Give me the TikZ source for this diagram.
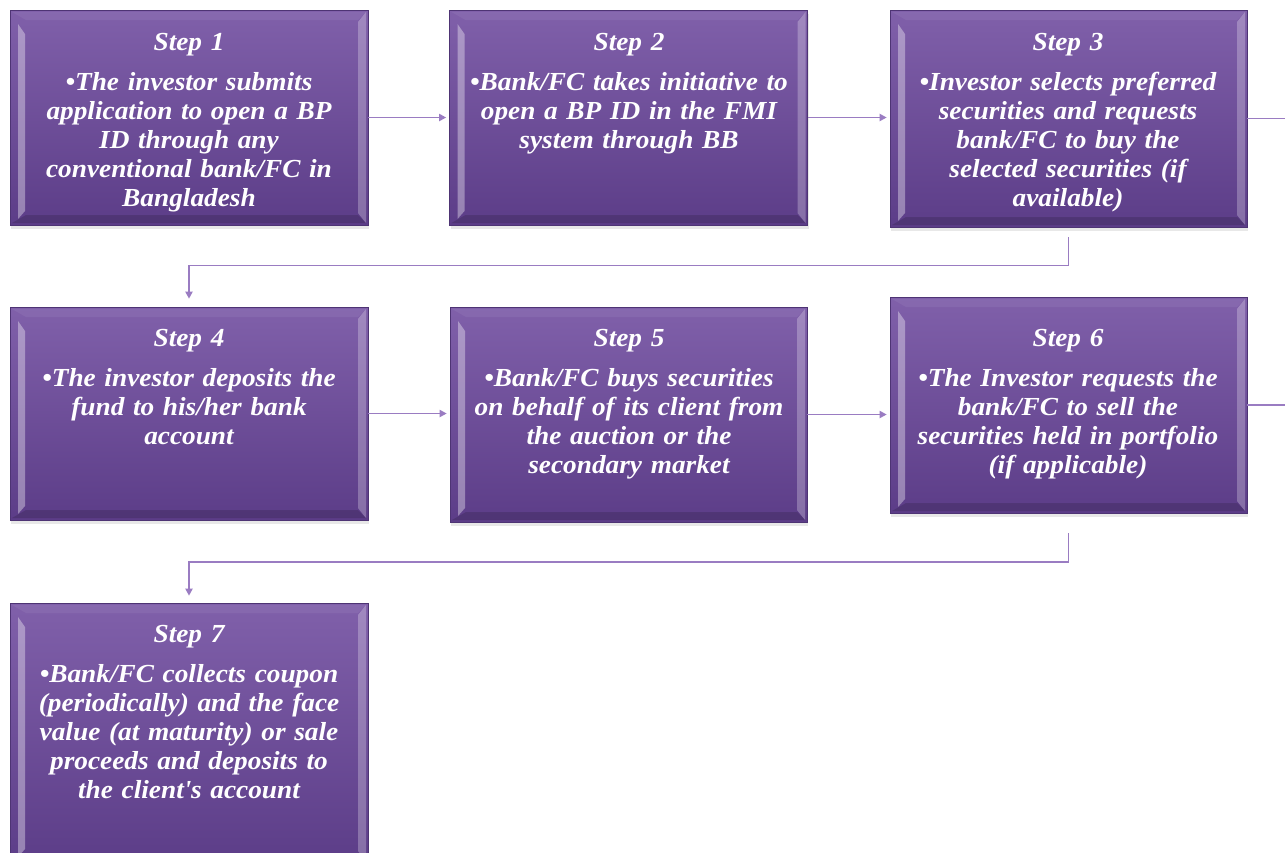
\documentclass[tikz,border=0pt]{standalone}
\usepackage{fontspec}
\setmainfont{Liberation Serif}
\newfontfamily\stepfont[FakeStretch=1.05]{Liberation Serif}
\usetikzlibrary{arrows.meta,calc,shadows}
\definecolor{boxtop}{HTML}{8060AA}
\definecolor{boxbot}{HTML}{5C3D88}
\definecolor{connc}{HTML}{9A7CC2}
\tikzset{
  stepbox/.style={rectangle, inner sep=0pt, top color=boxtop, bottom color=boxbot,
    draw=boxbot!85!black, line width=0.6pt, minimum width=358pt, minimum height=215pt,
    drop shadow={shadow xshift=1pt, shadow yshift=-4pt, opacity=0.18, fill=black!50},
    path picture={
      \coordinate (pnw) at (path picture bounding box.north west);
      \coordinate (pse) at (path picture bounding box.south east);
      % left bevel
      \fill[white, opacity=0.36] ($(pnw)+(8,14)$) -- ($(pnw)+(15,24)$) -- ($(pnw|-pse)+(15,-14)$) -- ($(pnw|-pse)+(8,-6)$) -- cycle;
      % right bevel
      \fill[white, opacity=0.26] ($(pse|-pnw)+(-2,2)$) -- ($(pse|-pnw)+(-10,12)$) -- ($(pse)+(-10,-12)$) -- ($(pse)+(-2,-2)$) -- cycle;
      % top bevel
      \fill[white, opacity=0.06] ($(pnw)+(2,2)$) -- ($(pse|-pnw)+(-2,2)$) -- ($(pse|-pnw)+(-10,10)$) -- ($(pnw)+(16,10)$) -- cycle;
      % bottom bevel
      \fill[black, opacity=0.14] ($(pnw|-pse)+(2,-2)$) -- ($(pse)+(-2,-2)$) -- ($(pse)+(-10,-10)$) -- ($(pnw|-pse)+(16,-10)$) -- cycle;
    }},
  steptext/.style={text=white, font=\stepfont\fontsize{26}{28.8}\selectfont\bfseries\itshape,
    align=center, text width=356pt, inner sep=0pt, anchor=base},
  conn/.style={draw=connc, line width=1.8pt, -{Triangle[length=7pt,width=7pt]}},
  connline/.style={draw=connc, line width=1.8pt}
}
\begin{document}
\begin{tikzpicture}[x=1pt, y=-1pt]
\useasboundingbox (0,0) rectangle (1285,852);
\clip (0,0) rectangle (1285,852);
\fill[white] (0,0) rectangle (1285,852);

% boxes
\node[stepbox] (b1) at (189,117.5) {};
\node[stepbox] (b2) at (628.5,117.5) {};
\node[stepbox, minimum width=357pt, minimum height=217pt] (b3) at (1068.5,118.5) {};
\node[stepbox, minimum height=213pt] (b4) at (189,413.5) {};
\node[stepbox, minimum width=357pt] (b5) at (628.5,414.5) {};
\node[stepbox, minimum width=357pt, minimum height=216pt] (b6) at (1068.5,405) {};
\node[stepbox, minimum height=260pt] (b7) at (189,733) {};

% texts
\node[steptext] (t1) at (189,50) {Step 1\\[12pt]\textbullet The investor submits\\application to open a BP\\ID through any\\conventional bank/FC in\\Bangladesh};
\node[steptext] (t2) at (629,50) {Step 2\\[12pt]\textbullet Bank/FC takes initiative to\\open a BP ID in the FMI\\system through BB};
\node[steptext] (t3) at (1068,50) {Step 3\\[12pt]\textbullet Investor selects preferred\\securities and requests\\bank/FC to buy the\\selected securities (if\\available)};
\node[steptext] (t4) at (189,346) {Step 4\\[12pt]\textbullet The investor deposits the\\fund to his/her bank\\account};
\node[steptext] (t5) at (629,346) {Step 5\\[12pt]\textbullet Bank/FC buys securities\\on behalf of its client from\\the auction or the\\secondary market};
\node[steptext] (t6) at (1068,346) {Step 6\\[12pt]\textbullet The Investor requests the\\bank/FC to sell the\\securities held in portfolio\\(if applicable)};
\node[steptext] (t7) at (189,642) {Step 7\\[12pt]\textbullet Bank/FC collects coupon\\(periodically) and the face\\value (at maturity) or sale\\proceeds and deposits to\\the client\textquotesingle s account};

% connectors
\coordinate (e3) at (1285,118.5);
\coordinate (d3) at (1068.5,237);
\coordinate (m3) at (1068.5,265.5);
\coordinate (e6) at (1285,405);
\coordinate (d6) at (1068.5,533);
\coordinate (m6) at (1068.5,562);

\draw[conn, shorten >=3pt] (b1.east) -- (b1.east -| b2.west);
\draw[conn, shorten >=3pt] (b2.east) -- (b2.east -| b3.west);
\draw[connline] (b3.east) -- (e3);
\draw[conn, shorten >=8pt] (d3) -- (m3) -| (b4.north);
\draw[conn, shorten >=3pt] (b4.east) -- (b4.east -| b5.west);
\draw[conn, shorten >=3pt] (b5.east) -- (b5.east -| b6.west);
\draw[connline] (b6.east) -- (e6);
\draw[conn, shorten >=7pt] (d6) -- (m6) -| (b7.north);
\end{tikzpicture}
\end{document}
